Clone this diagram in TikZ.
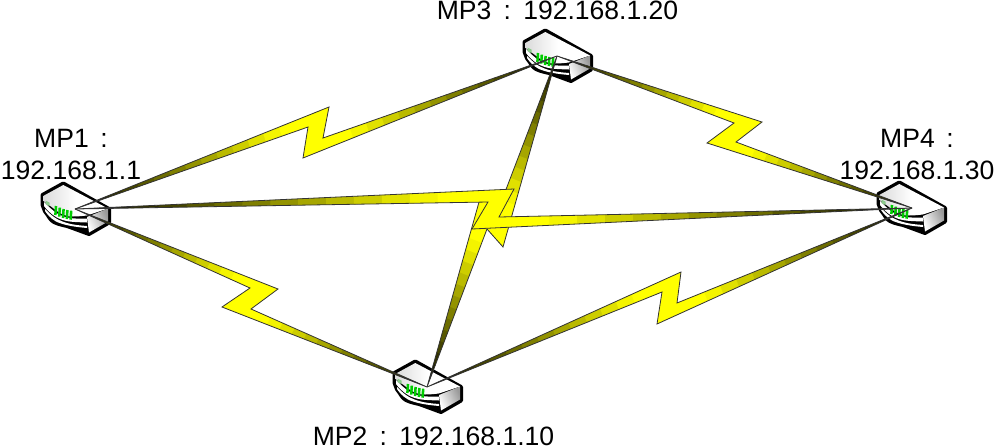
\documentclass[tikz,border=0pt]{standalone}
\usepackage{fontspec}
\setmainfont{Liberation Sans}
\usetikzlibrary{calc}
\tikzset{
  labeltext/.style={inner sep=0pt,anchor=base,font=\fontsize{19.9}{24}\selectfont},
  boltedge/.style={draw=black!80,line width=0.6pt,line join=miter},
  router/.pic={
    % outer body
    \fill[black,line join=round,draw=black,line width=3pt]
      (-11.7,-25.5) -- (-32.5,-14) -- (-32.5,-4.3) -- (-30,2.3)
      .. controls (-26,7) and (-25,11) .. (-21,13)
      .. controls (-15,16) and (-10,16) .. (-5,18)
      -- (14,25) -- (34,13.5) -- (34,0) -- cycle;
    % front stripes
    \fill[white]
      (-31,-7) .. controls (-27,-3) and (-22,2) .. (-17,5)
      .. controls (-10,9) and (-3,10) .. (12,9.5) -- (12,13.5)
      .. controls (-3,13) and (-10,13) .. (-19,8)
      .. controls (-24,5) and (-28,1) .. (-31,-3) -- cycle;
    \fill[white]
      (-30,0) .. controls (-26,4) and (-22,8) .. (-17,10.5)
      .. controls (-10,14) and (-3,16) .. (12,17) -- (12,19)
      .. controls (0,18) and (-12,16) .. (-19,12.5)
      .. controls (-25,9) and (-28,5) .. (-30,2) -- cycle;
    % right face
    \shade[left color=white,right color=black!40,shading angle=115]
      (12,8) -- (33,-0.5) -- (33,12.5) -- (14,23.5) -- cycle;
    % top face
    \shade[left color=black!14,right color=white,middle color=white]
      (-11.7,-24) -- (-31.5,-13.2) -- (-31.5,-8) -- (-20,0.5)
      .. controls (-15,5) and (-8,8) .. (-2,7.5)
      .. controls (3,7.5) and (8,7) .. (11.7,6.5) -- (33,-0.5) -- cycle;
    % indicator and LEDs
    \fill[green!55!black!45] (-29.5,-8.5) -- (-25.5,-6.5) -- (-25.5,-3) -- (-29.5,-5) -- cycle;
    \foreach \lx/\ly in {-19/-3,-15.2/-1.4,-11.4/0,-7.6/1,-3.8/1.7}
      \draw[green!80!black,line width=1.9pt] (\lx,\ly) -- ++(-0.6,9);
  }
}
% \boltshape{A}{B}{peak1}{notch1}{peak2}{notch2}
\newcommand{\boltshape}[6]{%
  \begin{scope}
    \clip (#1) -- (#3) -- (#4) -- (#2) -- (#5) -- (#6) -- cycle;
    \foreach \k in {0,...,29}{%
      \pgfmathsetmacro{\tzero}{\k/30}%
      \pgfmathsetmacro{\tone}{(\k+1.15)/30}%
      \pgfmathsetmacro{\mixv}{min(1,2.3*min((\k+.5)/30,1-(\k+.5)/30))}%
      \definecolor{boltband}{rgb}{\mixv,\mixv,0}%
      \draw[boltband,line width=90pt]
        ($(#1)!\tzero!(#2)$) -- ($(#1)!\tone!(#2)$);
    }
  \end{scope}
  \path[boltedge] (#1) -- (#3) -- (#4) -- (#2) -- (#5) -- (#6) -- cycle;
}
\begin{document}
\begin{tikzpicture}[x=0.75pt,y=-0.75pt]
\useasboundingbox (0,0) rectangle (1000,447);
\coordinate (mp1) at (75,209);
\coordinate (mp2) at (427,387);
\coordinate (mp3) at (557,56);
\coordinate (mp4) at (912,208);

\pic at (mp1) {router};
\pic at (mp2) {router};
\pic at (mp3) {router};
\pic at ($(mp4)+(-1,0)$) {router};

\boltshape{mp1}{mp3}{329,107}{323,138}{303,158}{308,127}
\boltshape{mp1}{mp2}{278,289}{251,309}{222,307}{250,288}
\boltshape{mp3}{mp4}{762,122}{736,142}{707,143}{734,123}
\boltshape{mp2}{mp4}{681,272}{677,303}{657,324}{662,292}
\boltshape{mp3}{mp2}{503,247}{487,229}{481,195}{497,213}
\boltshape{mp1}{mp4}{514,189}{499,217}{472,229}{488,202}

\node[labeltext] (t3) at (557.5,19.5) {MP3\ \hspace{3.7pt}:\hspace{3.7pt}\ 192.168.1.20};
\node[labeltext] (t1a) at (71,147) {MP1\ \hspace{3.2pt}:};
\node[labeltext] (t1b) at (71,179) {192.168.1.1};
\node[labeltext] (t4a) at (917,147) {MP4\ \hspace{3.2pt}:};
\node[labeltext] (t4b) at (917,179) {192.168.1.30};
\node[labeltext] (t2) at (433.5,445) {MP2\ \hspace{3.7pt}:\hspace{3.7pt}\ 192.168.1.10};
\end{tikzpicture}
\end{document}
